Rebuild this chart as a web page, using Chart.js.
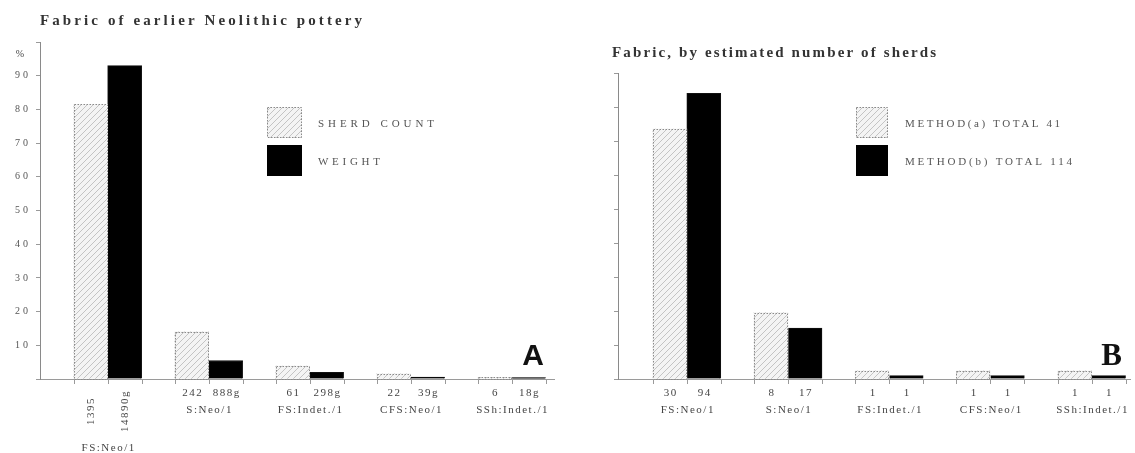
<!DOCTYPE html>
<html>
<head>
<meta charset="utf-8">
<script src="https://cdn.jsdelivr.net/npm/chart.js@4.4.1/dist/chart.umd.min.js"></script>
<style>
  html, body { margin: 0; padding: 0; background: #fff; }
  #wrap { position: relative; width: 1135px; height: 453px; overflow: hidden; }
  #chart-a { position: absolute; left: 0; top: 0; }
  #chart-b { position: absolute; left: 580px; top: 0; }
</style>
</head>
<body>
<div id="wrap">
  <canvas id="chart-a" width="580" height="453"></canvas>
  <canvas id="chart-b" width="555" height="453"></canvas>
</div>
<script>
var fabricNames = ["FS:Neo/1", "S:Neo/1", "FS:Indet./1", "CFS:Neo/1", "SSh:Indet./1"];

// A - percentages, with the printed totals under them
var sherdCountPct = [81.5, 14, 3.8, 1.5, 0.5];
var weightPct = [93, 5.5, 2, 0.6, 0.4];
var sherdCountText = ["1395", "242", "61", "22", "6"];
var weightText = ["14890g", "888g", "298g", "39g", "18g"];
var yLabelsA = [10, 20, 30, 40, 50, 60, 70, 80, 90];

// B - estimated number of sherds
var methodAPct = [73.5, 19.5, 2.4, 2.4, 2.4];
var methodBPct = [84, 15, 1, 1, 1];
var methodAText = ["30", "8", "1", "1", "1"];
var methodBText = ["94", "17", "1", "1", "1"];

var serif = '"Liberation Serif", "DejaVu Serif", serif';

function makeHatch() {
  var c = document.createElement("canvas");
  c.width = 6;
  c.height = 6;
  var g = c.getContext("2d");
  g.fillStyle = "#f4f4f4";
  g.fillRect(0, 0, 6, 6);
  g.strokeStyle = "#c4c4c4";
  g.lineWidth = 1;
  g.beginPath();
  g.moveTo(0, 6); g.lineTo(6, 0);
  g.moveTo(-1, 1); g.lineTo(1, -1);
  g.moveTo(5, 7); g.lineTo(7, 5);
  g.stroke();
  return g.createPattern(c, "repeat");
}

// draw text stretched with letter spacing to a given width
function spacedText(ctx, text, x, y, width) {
  ctx.letterSpacing = "0px";
  var w = ctx.measureText(text).width;
  var sp = text.length > 1 ? (width - w) / (text.length - 1) : 0;
  ctx.letterSpacing = sp + "px";
  ctx.textAlign = "left";
  ctx.fillText(text, x, y);
  ctx.letterSpacing = "0px";
}

var paperPlugin = {
  id: "paper",
  beforeDraw: function (chart) {
    chart.ctx.letterSpacing = "3px";
  },
  afterDraw: function (chart, args, o) {
    var ctx = chart.ctx;
    var area = chart.chartArea;
    var yScale = chart.scales.y;
    var base = yScale.getPixelForValue(0);
    var barsA = chart.getDatasetMeta(0).data;
    var barsB = chart.getDatasetMeta(1).data;

    ctx.save();
    ctx.letterSpacing = "0px";

    // dotted outline round the hatched bars
    ctx.strokeStyle = "#8a8a8a";
    ctx.lineWidth = 1;
    ctx.setLineDash([1.5, 1.5]);
    barsA.forEach(function (bar) {
      var left = Math.round(bar.x - bar.width / 2) + 0.5;
      var top = Math.round(bar.y) + 0.5;
      ctx.strokeRect(left, top, Math.round(bar.width) - 1, Math.round(base - bar.y));
    });
    ctx.setLineDash([]);

    // little ticks under the axis at every bar edge
    ctx.strokeStyle = "#9a9a9a";
    ctx.beginPath();
    barsA.concat(barsB).forEach(function (bar) {
      [bar.x - bar.width / 2, bar.x + bar.width / 2].forEach(function (x) {
        x = Math.round(x) + 0.5;
        ctx.moveTo(x, base);
        ctx.lineTo(x, base + 5);
      });
    });
    ctx.stroke();

    // counts and fabric names
    ctx.fillStyle = "#444";
    ctx.font = "11px " + serif;
    ctx.letterSpacing = "1.5px";
    ctx.textAlign = "center";
    ctx.textBaseline = "alphabetic";
    for (var i = 0; i < o.names.length; i++) {
      var a = barsA[i], b = barsB[i];
      if (o.upright && i === 0) {
        [[a, o.textA[i]], [b, o.textB[i]]].forEach(function (p) {
          ctx.save();
          ctx.translate(p[0].x + 3, base + 33);
          ctx.rotate(-Math.PI / 2);
          ctx.fillText(p[1], 1, 0);
          ctx.restore();
        });
        ctx.fillText(o.names[i], (a.x + b.x) / 2 + 1, base + 72);
      } else {
        ctx.fillText(o.textA[i], a.x + 1, base + 17);
        ctx.fillText(o.textB[i], b.x + 1, base + 17);
        ctx.fillText(o.names[i], (a.x + b.x) / 2 + 1, base + 34);
      }
    }
    ctx.letterSpacing = "0px";

    // "%" above the tick labels
    if (o.percent) {
      ctx.font = "10px " + serif;
      ctx.fillText("%", area.left - 20, yScale.getPixelForValue(96.5) + 3);
    }

    // legend
    ctx.font = "11px " + serif;
    ctx.textBaseline = "middle";
    chart.data.datasets.forEach(function (ds, k) {
      var lx = o.legend.x, ly = o.legend.y + k * o.legend.gap;
      ctx.fillStyle = ds.backgroundColor;
      ctx.fillRect(lx, ly, o.legend.w, o.legend.h);
      if (k === 0) {
        ctx.strokeStyle = "#8a8a8a";
        ctx.setLineDash([1.5, 1.5]);
        ctx.strokeRect(lx + 0.5, ly + 0.5, o.legend.w - 1, o.legend.h - 1);
        ctx.setLineDash([]);
      }
      ctx.fillStyle = "#555";
      spacedText(ctx, ds.label, lx + o.legend.textGap, ly + o.legend.h / 2 + 2, o.legend.textWidths[k]);
    });

    // big panel letter
    ctx.fillStyle = "#111";
    ctx.font = o.letterFont;
    ctx.textAlign = "right";
    ctx.textBaseline = "alphabetic";
    ctx.fillText(o.letter, area.right - o.letterRight, base - 14);

    // title
    ctx.fillStyle = "#333";
    ctx.font = "bold 15px " + serif;
    spacedText(ctx, o.title, o.titleX, o.titleY, o.titleWidth);

    ctx.restore();
  },
};

function buildChart(id, cfg) {
  var hatch = makeHatch();
  var ctx = document.getElementById(id).getContext("2d");
  return new Chart(ctx, {
    type: "bar",
    data: {
      datasets: [
        {
          label: cfg.labels[0],
          data: cfg.valuesA.map(function (v, i) { return { x: i, y: v }; }),
          backgroundColor: hatch,
          borderWidth: 0,
        },
        {
          label: cfg.labels[1],
          data: cfg.valuesB.map(function (v, i) { return { x: i, y: v }; }),
          backgroundColor: "#000",
          borderColor: "#111",
          borderWidth: 1,
        },
      ],
    },
    options: {
      responsive: false,
      animation: false,
      events: [],
      barThickness: 34,
      layout: { padding: cfg.padding },
      plugins: {
        legend: { display: false },
        tooltip: { enabled: false },
        paper: cfg.paper,
      },
      scales: {
        x: {
          type: "linear",
          min: cfg.xMin,
          max: cfg.xMax,
          offset: false,
          grid: { display: false },
          ticks: { display: false },
          border: { display: true, color: "#9a9a9a" },
          afterFit: function (s) { s.height = 453 - 379; },
        },
        y: {
          min: 0,
          max: cfg.yMax,
          ticks: {
            stepSize: 10,
            display: cfg.showYLabels,
            padding: 5,
            color: "#555",
            font: { family: serif, size: 10 },
            callback: function (v) { return yLabelsA.indexOf(v) >= 0 ? String(v) : ""; },
          },
          grid: { display: true, drawOnChartArea: false, drawTicks: true, tickLength: 4, color: "#9a9a9a" },
          border: { display: true, color: "#8a8a8a" },
          afterFit: function (s) { s.width = cfg.yWidth; },
        },
      },
    },
    plugins: [paperPlugin],
  });
}

buildChart("chart-a", {
  labels: ["SHERD COUNT", "WEIGHT"],
  valuesA: sherdCountPct,
  valuesB: weightPct,
  xMin: -0.67,
  xMax: 4.42,
  yMax: 100,
  yWidth: 40,
  showYLabels: true,
  padding: { top: 42, right: 26, bottom: 0, left: 0 },
  paper: {
    names: fabricNames,
    textA: sherdCountText,
    textB: weightText,
    upright: true,
    percent: true,
    legend: { x: 267, y: 107, w: 35, h: 31, gap: 38, textGap: 51, textWidths: [116, 62] },
    letter: "A",
    letterFont: "bold 30px \"Liberation Sans\", Arial, sans-serif",
    letterRight: 10,
    title: "Fabric of earlier Neolithic pottery",
    titleX: 40,
    titleY: 25,
    titleWidth: 322,
  },
});

buildChart("chart-b", {
  labels: ["METHOD(a) TOTAL 41", "METHOD(b) TOTAL 114"],
  valuesA: methodAPct,
  valuesB: methodBPct,
  xMin: -0.68,
  xMax: 4.38,
  yMax: 90,
  yWidth: 38,
  showYLabels: false,
  padding: { top: 73, right: 5, bottom: 0, left: 0 },
  paper: {
    names: fabricNames,
    textA: methodAText,
    textB: methodBText,
    upright: false,
    percent: false,
    legend: { x: 276, y: 107, w: 32, h: 31, gap: 38, textGap: 49, textWidths: [155, 167] },
    letter: "B",
    letterFont: "bold 31px " + serif,
    letterRight: 8,
    title: "Fabric, by estimated number of sherds",
    titleX: 32,
    titleY: 57,
    titleWidth: 324,
  },
});
</script>
</body>
</html>
